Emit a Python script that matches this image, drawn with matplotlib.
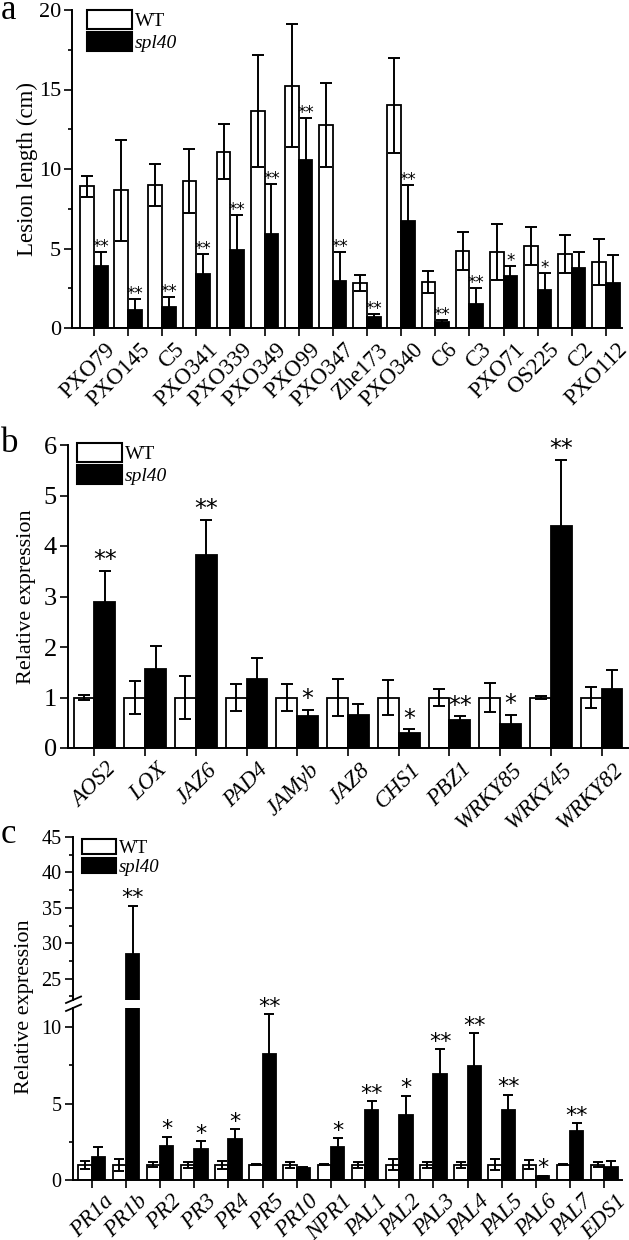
import matplotlib
matplotlib.use("Agg")
import matplotlib.pyplot as plt
import matplotlib.transforms as mtransforms
from matplotlib.lines import Line2D
from matplotlib.patches import Patch
from matplotlib.ticker import MultipleLocator
import numpy as np

plt.rcParams["font.family"] = "serif"
plt.rcParams["font.serif"] = ["Liberation Serif", "DejaVu Serif"]

W, H = 629, 1240

# --- panel a: lesion length (cm) ---
strains = ["PXO79", "PXO145", "C5", "PXO341", "PXO339", "PXO349", "PXO99",
           "PXO347", "Zhe173", "PXO340", "C6", "C3", "PXO71", "OS225", "C2",
           "PXO112"]
a_wt = [8.9, 8.65, 9.0, 9.25, 11.1, 13.65, 15.25, 12.75, 2.85, 14.0, 2.9,
        4.85, 4.8, 5.15, 4.65, 4.15]
a_wt_err = [0.65, 3.15, 1.3, 2.0, 1.75, 3.5, 3.85, 2.65, 0.5, 3.0, 0.67,
            1.2, 1.75, 1.2, 1.2, 1.45]
a_mut = [3.93, 1.15, 1.3, 3.4, 4.92, 5.94, 10.56, 2.93, 0.67, 6.74, 0.38,
         1.5, 3.26, 2.36, 3.77, 2.8]
a_mut_err = [0.82, 0.7, 0.65, 1.25, 2.2, 3.1, 2.62, 1.84, 0.23, 2.26, 0.14,
             1.0, 0.67, 1.13, 1.0, 1.8]
a_sig = ["**", "**", "**", "**", "**", "**", "**", "**", "**", "**", "**",
         "**", "*", "*", "", ""]

# --- panel b: JA pathway genes ---
genes_b = ["AOS2", "LOX", "JAZ6", "PAD4", "JAMyb", "JAZ8", "CHS1", "PBZ1",
           "WRKY85", "WRKY45", "WRKY82"]
b_wt = [1.0, 1.0, 1.0, 1.0, 1.0, 1.0, 1.0, 1.0, 1.0, 1.0, 1.0]
b_wt_err = [0.05, 0.32, 0.42, 0.27, 0.27, 0.36, 0.34, 0.16, 0.28, 0.03, 0.2]
b_mut = [2.89, 1.57, 3.82, 1.36, 0.63, 0.65, 0.30, 0.56, 0.48, 4.40, 1.16]
b_mut_err = [0.62, 0.45, 0.70, 0.42, 0.13, 0.23, 0.07, 0.07, 0.18, 1.31, 0.38]
b_sig = ["**", "", "**", "", "*", "", "*", "**", "*", "**", ""]

# --- panel c: SA pathway / PR genes ---
genes_c = ["PR1a", "PR1b", "PR2", "PR3", "PR4", "PR5", "PR10", "NPR1", "PAL1",
           "PAL2", "PAL3", "PAL4", "PAL5", "PAL6", "PAL7", "EDS1"]
c_wt = [1.0, 1.0, 1.0, 1.0, 1.0, 1.0, 1.0, 1.0, 1.0, 1.0, 1.0, 1.0, 1.0, 1.0,
        1.0, 1.0]
c_wt_err = [0.27, 0.4, 0.15, 0.2, 0.27, 0.04, 0.2, 0.05, 0.2, 0.35, 0.2, 0.2,
            0.37, 0.3, 0.03, 0.15]
c_mut = [1.5, 28.5, 2.24, 2.0, 2.67, 8.26, 0.8, 2.13, 4.6, 4.26, 6.96, 7.48,
         4.57, 0.26, 3.2, 0.83]
c_mut_err = [0.63, 6.8, 0.6, 0.52, 0.67, 2.6, 0.05, 0.59, 0.57, 1.26, 1.6,
             2.13, 1.0, 0.03, 0.52, 0.41]
c_sig = ["", "**", "*", "*", "*", "**", "", "*", "**", "*", "**", "**", "**",
         "*", "**", ""]


def px_axes(fig, x0, y0, x1, y1):
    """Axes from pixel box (top-left origin)."""
    return fig.add_axes([x0 / W, 1 - y1 / H, (x1 - x0) / W, (y1 - y0) / H])


def style_axes(ax, bottom=True):
    for s in ("top", "right"):
        ax.spines[s].set_visible(False)
    ax.spines["left"].set_linewidth(1.4)
    ax.spines["bottom"].set_linewidth(1.4)
    if not bottom:
        ax.spines["bottom"].set_visible(False)
    ax.tick_params(direction="out", width=1.2, length=6, pad=2)
    ax.tick_params(which="minor", direction="out", width=1.2, length=3)


def draw_bars(ax, wt, wt_err, mut, mut_err, sig, w, cap, star_fs, star_off,
              ylim=None):
    x = np.arange(len(wt))
    ax.bar(x - w / 2, wt, w, color="white", edgecolor="black", linewidth=1.3,
           zorder=2)
    ax.bar(x + w / 2, mut, w, color="black", edgecolor="black", linewidth=1.3,
           zorder=2)
    ax.errorbar(x - w / 2, wt, yerr=wt_err, fmt="none", ecolor="black",
                elinewidth=1.4, capsize=cap, capthick=1.4, zorder=3)
    ax.errorbar(x + w / 2, mut, yerr=mut_err, fmt="none", ecolor="black",
                elinewidth=1.4, capsize=cap, capthick=1.4, zorder=3)
    for xi, m, e, s in zip(x, mut, mut_err, sig):
        top = m + e
        if not s:
            continue
        if ylim is not None and not (ylim[0] <= top <= ylim[1]):
            continue
        ax.annotate(s, (xi + w / 2, top), xytext=(0, star_off),
                    textcoords="offset points", ha="center", va="baseline",
                    fontsize=star_fs, family="DejaVu Sans")


def set_xlabels(ax, fig, labels, fs, italic, dx=8):
    ax.set_xticks(np.arange(len(labels)))
    ax.set_xticklabels(labels, rotation=45, ha="right",
                       rotation_mode="anchor", fontsize=fs,
                       style="italic" if italic else "normal")
    off = mtransforms.ScaledTranslation(dx / 72, 0, fig.dpi_scale_trans)
    for lab in ax.get_xticklabels():
        lab.set_transform(lab.get_transform() + off)


def add_legend(ax, anchor, hl, hh, fs=14):
    handles = [Patch(facecolor="white", edgecolor="black", linewidth=1.5),
               Patch(facecolor="black", edgecolor="black", linewidth=1.5)]
    leg = ax.legend(handles, ["WT", "spl40"], loc="upper left",
                    bbox_to_anchor=anchor, frameon=False, borderpad=0,
                    borderaxespad=0, handlelength=hl, handleheight=hh,
                    handletextpad=0.15, labelspacing=0.1, fontsize=fs)
    leg.get_texts()[1].set_style("italic")


fig = plt.figure(figsize=(W / 100, H / 100), dpi=100)

# ---------------- panel a ----------------
ax_a = px_axes(fig, 72, 10, 622, 328)
style_axes(ax_a)
draw_bars(ax_a, a_wt, a_wt_err, a_mut, a_mut_err, a_sig, 0.4, 4, 12, 0)
ax_a.set_xlim(-0.64, 15.47)
ax_a.set_ylim(0, 20)
ax_a.yaxis.set_major_locator(MultipleLocator(5))
ax_a.yaxis.set_minor_locator(MultipleLocator(2.5))
ax_a.tick_params(axis="y", labelsize=16)
set_xlabels(ax_a, fig, strains, 16.5, False)
ax_a.set_ylabel("Lesion length (cm)", fontsize=16.5)
ax_a.yaxis.set_label_coords(-0.062, 0.5)
add_legend(ax_a, (0.027, 1.0), 2.3, 1.1, fs=14)
fig.text(1 / W, 1 - 19 / H, "a", fontsize=25, ha="left", va="baseline")

# ---------------- panel b ----------------
ax_b = px_axes(fig, 68, 445, 628, 748)
style_axes(ax_b)
draw_bars(ax_b, b_wt, b_wt_err, b_mut, b_mut_err, b_sig, 0.41, 4, 17, 2.4)
ax_b.set_xlim(-0.52, 10.52)
ax_b.set_ylim(0, 6)
ax_b.yaxis.set_major_locator(MultipleLocator(1))
ax_b.tick_params(axis="y", labelsize=19)
set_xlabels(ax_b, fig, genes_b, 16.5, True)
ax_b.set_ylabel("Relative expression", fontsize=16)
ax_b.yaxis.set_label_coords(-0.057, 0.5)
add_legend(ax_b, (0.016, 1.007), 2.3, 1.15, fs=14)
fig.text(1 / W, 1 - 452 / H, "b", fontsize=25, ha="left", va="baseline")

# ---------------- panel c (broken axis) ----------------
ax_cu = px_axes(fig, 72.7, 837, 621.7, 1000)
ax_cl = px_axes(fig, 72.7, 1008, 621.7, 1180)
style_axes(ax_cu, bottom=False)
style_axes(ax_cl)
up_lim = (22, 45)
lo_lim = (0, 11.25)
draw_bars(ax_cu, c_wt, c_wt_err, c_mut, c_mut_err, c_sig, 0.39, 3.5, 16,
          1.0, ylim=up_lim)
draw_bars(ax_cl, c_wt, c_wt_err, c_mut, c_mut_err, c_sig, 0.39, 3.5, 16,
          1.0, ylim=lo_lim)
for ax in (ax_cu, ax_cl):
    ax.set_xlim(-0.556, 15.51)
ax_cu.set_ylim(*up_lim)
ax_cl.set_ylim(*lo_lim)
ax_cu.set_xticks([])
ax_cu.yaxis.set_major_locator(MultipleLocator(5))
ax_cu.yaxis.set_minor_locator(MultipleLocator(2.5))
ax_cl.yaxis.set_major_locator(MultipleLocator(5))
ax_cl.yaxis.set_minor_locator(MultipleLocator(2.5))
ax_cu.tick_params(axis="y", labelsize=14.5)
ax_cl.tick_params(axis="y", labelsize=14.5)
set_xlabels(ax_cl, fig, genes_c, 16.5, True)
add_legend(ax_cu, (0.017, 0.99), 1.8, 0.85, fs=13.5)
fig.text(34 / W, 1 - 1007 / H, "Relative expression", fontsize=16,
         rotation=90, rotation_mode="anchor", ha="center", va="bottom")
fig.text(1 / W, 1 - 843 / H, "c", fontsize=25, ha="left", va="baseline")

# break marks on the y axis
for y0 in (1003, 1011):
    fig.add_artist(Line2D([66 / W, 81 / W], [1 - y0 / H, 1 - (y0 - 6.5) / H],
                          color="black", linewidth=1.3))

fig.savefig("out.png", dpi=100)
